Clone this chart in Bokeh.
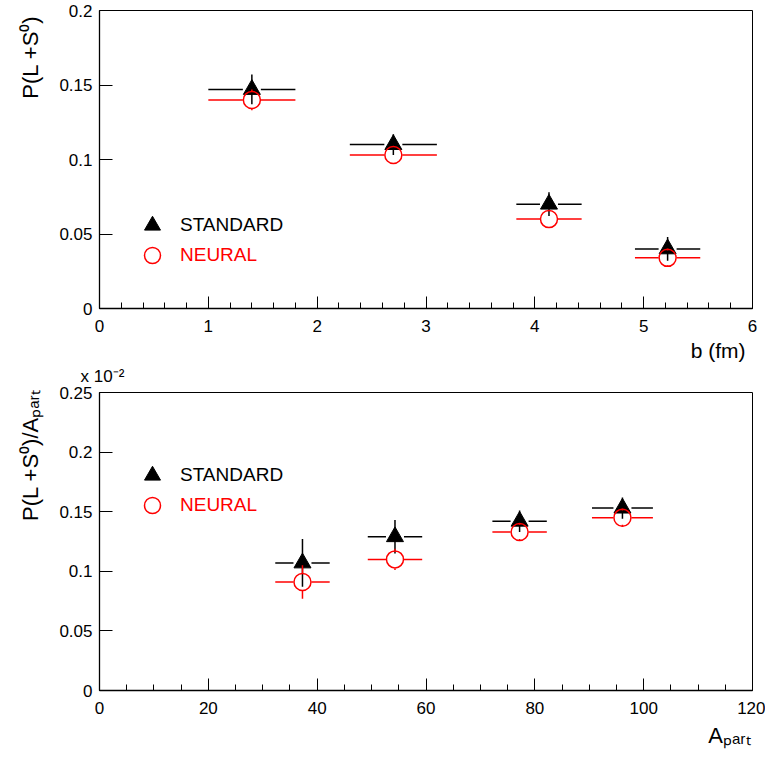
from bokeh.plotting import figure
from bokeh.layouts import column
from bokeh.models import (Range1d, SingleIntervalTicker, FixedTicker, Legend,
                          LegendItem, NumeralTickFormatter, Title)
from bokeh.embed import file_html
from bokeh.resources import INLINE

FONT = "Liberation Sans"

# ---------------- data: top panel, P(L+S0) vs impact parameter b (fm)
b_x = [1.40, 2.70, 4.13, 5.22]
b_xerr = [0.40, 0.40, 0.30, 0.30]
b_std = [0.147, 0.110, 0.070, 0.040]
b_std_err = [0.010, 0.007, 0.008, 0.008]
b_nn = [0.140, 0.103, 0.060, 0.034]
b_nn_err = [0.007, 0.006, 0.006, 0.005]
b_yticks = [0, 0.05, 0.1, 0.15, 0.2]

# ---------------- data: bottom panel, P(L+S0)/A_part (x 10^-2) vs A_part
a_x = [37.3, 54.3, 77.2, 96.1]
a_xerr = [5.0, 5.0, 5.0, 5.6]
a_std = [0.107, 0.129, 0.142, 0.153]
a_std_err = [0.020, 0.014, 0.009, 0.009]
a_nn = [0.091, 0.110, 0.133, 0.145]
a_nn_err = [0.014, 0.009, 0.006, 0.006]
a_yticks = [0, 0.05, 0.1, 0.15, 0.2, 0.25]

W = 765
BL, BR = 99, 13


def title(text, size, align, offset=0, standoff=0):
    return Title(text=text, align=align, offset=offset, standoff=standoff,
                 text_font=FONT, text_font_size=size, text_font_style="normal",
                 text_color="black")


def panel(height, btop, bbot, xr, yr, xint, nminor, yticks,
          x, xerr, ys, yse, yn, yne, leg_y):
    p = figure(width=W, height=height, output_backend="svg", toolbar_location=None,
               x_range=Range1d(*xr), y_range=Range1d(*yr),
               min_border_left=BL, min_border_right=BR,
               min_border_top=btop, min_border_bottom=bbot)
    p.grid.visible = False
    p.outline_line_color = "black"
    p.outline_line_width = 1
    p.outline_line_alpha = 1
    p.background_fill_color = "white"
    p.border_fill_color = "white"

    p.xaxis.ticker = SingleIntervalTicker(interval=xint, num_minor_ticks=nminor)
    p.yaxis.ticker = FixedTicker(ticks=yticks)
    p.yaxis.formatter = NumeralTickFormatter(format="0.[00]")
    for ax in (p.xaxis[0], p.yaxis[0]):
        ax.axis_line_color = "black"
        ax.axis_line_width = 1.3
        ax.major_tick_line_color = "black"
        ax.minor_tick_line_color = "black"
        ax.major_tick_out = 0
        ax.minor_tick_out = 0
        ax.major_label_text_font = FONT
        ax.major_label_text_font_size = "17px"
        ax.major_label_text_color = "black"
    p.xaxis.major_tick_in = 12
    p.xaxis.minor_tick_in = 6
    p.xaxis.major_label_standoff = 11
    p.yaxis.major_tick_in = 13
    p.yaxis.minor_tick_in = 0
    p.yaxis.minor_tick_line_color = None
    p.yaxis.major_label_standoff = 7

    frame_w = W - BL - BR
    frame_h = height - btop - bbot
    gx = 9 * (xr[1] - xr[0]) / frame_w
    gy = 9 * (yr[1] - yr[0]) / frame_h

    xl = [a - e for a, e in zip(x, xerr)]
    xh = [a + e for a, e in zip(x, xerr)]
    xgl = [a - gx for a in x]
    xgh = [a + gx for a in x]

    # STANDARD (black)
    p.segment(xl, ys, xgl, ys, line_color="black", line_width=1.5)
    p.segment(xgh, ys, xh, ys, line_color="black", line_width=1.5)
    p.segment(x, [a - e for a, e in zip(ys, yse)], x, [a + e for a, e in zip(ys, yse)],
              line_color="black", line_width=1.5)
    tri = p.scatter(x, ys, marker="triangle", size=17, fill_color="black", line_color="black")

    # NEURAL (red)
    p.segment(xl, yn, xgl, yn, line_color="red", line_width=1.5)
    p.segment(xgh, yn, xh, yn, line_color="red", line_width=1.5)
    p.segment(x, [a - e for a, e in zip(yn, yne)], x, [a - gy for a in yn],
              line_color="red", line_width=1.5)
    p.segment(x, [a + gy for a in yn], x, [a + e for a, e in zip(yn, yne)],
              line_color="red", line_width=1.5)
    circ = p.scatter(x, yn, marker="circle", size=17, fill_color=None,
                     line_color="red", line_width=1.5)

    for label, r, col, ly in (("STANDARD", tri, "black", leg_y[0]),
                              ("NEURAL", circ, "red", leg_y[1])):
        leg = Legend(items=[LegendItem(label=label, renderers=[r])],
                     location=(33, ly), padding=0, margin=0, spacing=0,
                     glyph_width=40, glyph_height=40, label_standoff=8,
                     label_text_font=FONT, label_text_font_size="19px",
                     label_text_color=col, border_line_color=None,
                     background_fill_color=None, background_fill_alpha=0)
        p.add_layout(leg)
    return p


# top: figure 0..385, frame 10..308
p1 = panel(385, 10, 77, (0, 6), (0, 0.2), 1, 5, b_yticks,
           b_x, b_xerr, b_std, b_std_err, b_nn, b_nn_err, (63, 33))
# bottom: figure 385..759, frame 392..690
p2 = panel(374, 7, 69, (0, 120), (0, 0.25), 20, 4, a_yticks,
           a_x, a_xerr, a_std, a_std_err, a_nn, a_nn_err, (195, 165))

# axis titles (ROOT style: aligned at the axis end)
p1.add_layout(title("P(L +S\u2070)", "22px", "right", offset=5, standoff=28), "left")
p1.add_layout(title("b (fm)", "21px", "right", offset=7, standoff=5), "below")
p1.add_layout(title("x 10\u207b\u00b2", "17px", "left", offset=-19, standoff=0), "below")

p2.add_layout(title("P(L +S\u2070)/A\u209a\u2090\u1d63\u209c", "22px", "right",
                    offset=-3, standoff=28), "left")
p2.add_layout(title("A\u209a\u2090\u1d63\u209c", "22px", "right", offset=2, standoff=9),
              "below")

layout = column(p1, p2, spacing=0)
open("out.html", "w").write(file_html(layout, INLINE))
